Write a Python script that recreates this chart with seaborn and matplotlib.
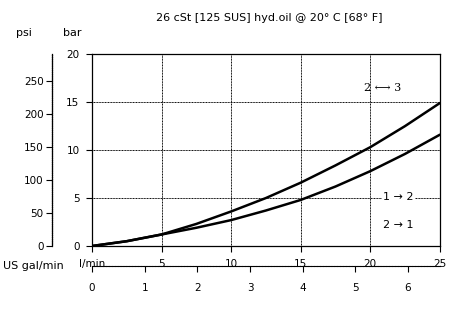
import numpy as np
import pandas as pd
import seaborn as sns
import matplotlib
matplotlib.use("Agg")
import matplotlib.pyplot as plt

# flow in l/min, pressure drop in bar
flow = [0, 2.5, 5, 7.5, 10, 12.5, 15, 17.5, 20, 22.5, 25]
dp_23 = [0, 0.5, 1.2, 2.3, 3.6, 5.0, 6.6, 8.4, 10.3, 12.5, 14.9]
dp_12 = [0, 0.5, 1.2, 1.9, 2.7, 3.7, 4.8, 6.2, 7.8, 9.6, 11.6]

bar_ticks = [0, 5, 10, 15, 20]
psi_ticks = [0, 50, 100, 150, 200, 250]
lmin_ticks = [0, 5, 10, 15, 20, 25]
lmin_labels = ["l/min", "5", "10", "15", "20", "25"]
gal_ticks = [0, 1, 2, 3, 4, 5, 6]

df = pd.DataFrame({
    "flow": flow * 2,
    "dp": dp_23 + dp_12,
    "curve": ["2-3"] * len(flow) + ["1-2"] * len(flow),
})

sns.set_style("ticks")
plt.rcParams["font.family"] = ["DejaVu Sans"]
plt.rcParams["text.color"] = "black"
plt.rcParams["xtick.color"] = "black"
plt.rcParams["ytick.color"] = "black"

fig = plt.figure(figsize=(4.53, 3.11), dpi=100)
ax = fig.add_axes([0.203, 0.209, 0.768, 0.617])

sns.lineplot(data=df, x="flow", y="dp", units="curve", estimator=None,
             color="black", linewidth=1.8, ax=ax, legend=False)

ax.set_xlim(0, 25)
ax.set_ylim(0, 20)
ax.set_xticks(lmin_ticks)
ax.set_xticklabels(lmin_labels)
ax.set_yticks(bar_ticks)
ax.set_xlabel("")
ax.set_ylabel("")
ax.grid(True, color="black", linewidth=0.7, linestyle=(0, (1, 0.6)))
for s in ax.spines.values():
    s.set_color("black")
    s.set_linewidth(0.9)
ax.tick_params(labelsize=7.5, length=4, width=0.8, colors="black", pad=5)

ax.text(20.9, 16.5, "2 \u27f7 3", fontsize=8, ha="center", va="center",
        family="DejaVu Serif")
ax.text(22.0, 5.1, "1 \u2192 2", fontsize=8, ha="center", va="center",
        bbox=dict(facecolor="white", edgecolor="none", pad=1))
ax.text(22.0, 2.2, "2 \u2192 1", fontsize=8, ha="center", va="center",
        bbox=dict(facecolor="white", edgecolor="none", pad=1))

# psi scale
axp = fig.add_axes([0.115, 0.209, 0.001, 0.617])
axp.set_ylim(0, 20 * 14.5038)
axp.set_yticks(psi_ticks)
axp.set_xticks([])
for k in ["top", "right", "bottom"]:
    axp.spines[k].set_visible(False)
axp.spines["left"].set_linestyle((0, (1, 0.5)))
axp.spines["left"].set_linewidth(0.9)
axp.spines["left"].set_color("black")
axp.tick_params(labelsize=7.5, length=4, width=0.8, pad=2)

# US gal/min scale
axg = fig.add_axes([0.203, 0.145, 0.768, 0.001])
axg.set_xlim(0, 25 / 3.785)
axg.set_xticks(gal_ticks)
axg.set_yticks([])
for k in ["top", "right", "left"]:
    axg.spines[k].set_visible(False)
axg.spines["bottom"].set_linestyle((0, (2, 0.6)))
axg.spines["bottom"].set_linewidth(0.8)
axg.spines["bottom"].set_color("black")
axg.tick_params(labelsize=7.5, length=4, width=0.8, pad=8)

fig.text(0.007, 0.145, "US gal/min", fontsize=8, ha="left", va="center")
fig.text(0.035, 0.895, "psi", fontsize=8, ha="left", va="center")
fig.text(0.14, 0.895, "bar", fontsize=8, ha="left", va="center")
fig.text(0.595, 0.942, "26 cSt [125 SUS] hyd.oil @ 20\u00b0 C [68\u00b0 F]",
         fontsize=8, ha="center", va="center")

fig.savefig("out.png", dpi=100, facecolor="white")
